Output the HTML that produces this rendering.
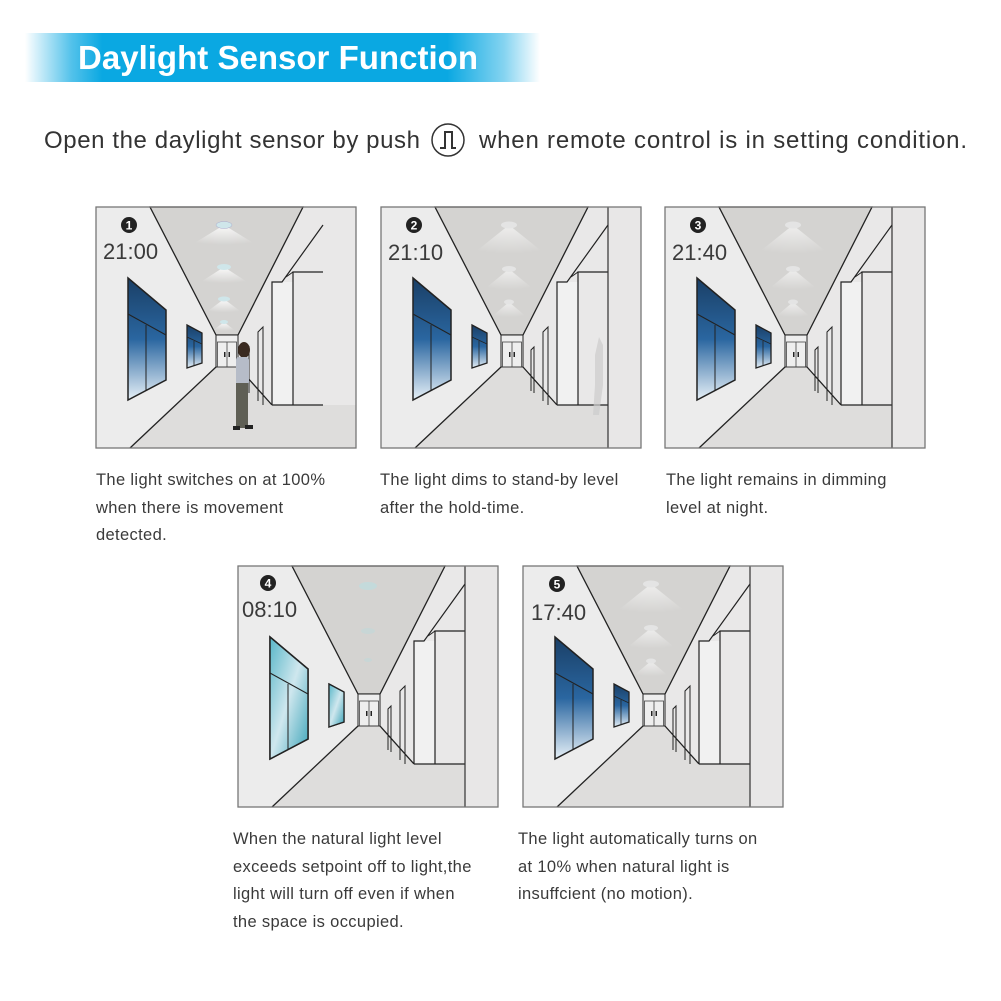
<!DOCTYPE html>
<html><head><meta charset="utf-8"><style>
html,body{margin:0;padding:0;background:#fff;}
body{width:1001px;height:1001px;overflow:hidden;position:relative;font-family:"Liberation Sans",sans-serif;}
svg{position:absolute;left:0;top:0;}
.cap{position:absolute;font-size:16.5px;letter-spacing:0.35px;line-height:27.5px;color:#3a3a3a;white-space:nowrap;}
</style></head><body>
<svg width="1001" height="1001" viewBox="0 0 1001 1001">
<defs>
<linearGradient id="ban" x1="0" x2="1" y1="0" y2="0">
<stop offset="0" stop-color="#0aa8e2" stop-opacity="0"/>
<stop offset="0.09" stop-color="#0aa8e2" stop-opacity="0.7"/>
<stop offset="0.15" stop-color="#0aa8e2"/>
<stop offset="0.82" stop-color="#0aa8e2"/>
<stop offset="0.93" stop-color="#0aa8e2" stop-opacity="0.5"/>
<stop offset="1" stop-color="#0aa8e2" stop-opacity="0"/>
</linearGradient>
<linearGradient id="win" x1="0" x2="0" y1="0" y2="1">
<stop offset="0" stop-color="#1a3f66"/>
<stop offset="0.5" stop-color="#2a66a0"/>
<stop offset="1" stop-color="#e6f0f7"/>
</linearGradient>
<linearGradient id="win4" x1="0" x2="1" y1="0" y2="1">
<stop offset="0" stop-color="#58b6c8"/>
<stop offset="0.5" stop-color="#cfe7ee"/>
<stop offset="1" stop-color="#3aa3b8"/>
</linearGradient>
<radialGradient id="glow" cx="0.5" cy="0" r="0.9">
<stop offset="0" stop-color="#ffffff" stop-opacity="0.9"/>
<stop offset="1" stop-color="#ffffff" stop-opacity="0"/>
</radialGradient>
<g id="base">
<rect x="0" y="0" width="260" height="241" fill="#e9e8e8"/>
<polygon points="0,0 54,0 120,128 120,160 34,241 0,241" fill="#ececec"/>
<polygon points="34,241 120,160 142,160 176,198 260,198 260,241" fill="#dedddc"/>
<polygon points="54,0 207,0 142,128 120,128" fill="#d4d3d1" stroke="#222" stroke-width="1.3"/>
<line x1="34" y1="241" x2="120" y2="160" stroke="#222" stroke-width="1.3"/>
<line x1="142" y1="160" x2="176" y2="198" stroke="#222" stroke-width="1.3"/>
<rect x="120" y="128" width="22" height="32" fill="#eee" stroke="#222" stroke-width="1"/>
<rect x="121.5" y="135" width="19" height="25" fill="none" stroke="#444" stroke-width="0.8"/>
<line x1="131" y1="135" x2="131" y2="160" stroke="#444" stroke-width="0.8"/>
<rect x="128" y="145" width="1.5" height="5" fill="#222"/><rect x="132.5" y="145" width="1.5" height="5" fill="#222"/>
<polygon points="32,71 70,103 70,173 32,193" fill="url(#win)" stroke="#222" stroke-width="1.5"/>
<line x1="32" y1="107" x2="70" y2="128" stroke="#222" stroke-width="1"/>
<line x1="50" y1="118" x2="50" y2="184" stroke="#222" stroke-width="1"/>
<polygon points="91,118 106,126 106,156 91,161" fill="url(#win)" stroke="#222" stroke-width="1.3"/>
<line x1="91" y1="130" x2="106" y2="137" stroke="#222" stroke-width="0.8"/>
<line x1="98" y1="134" x2="98" y2="159" stroke="#222" stroke-width="0.8"/>
<polyline points="150,184 150,143 153,140 153,186" fill="none" stroke="#222" stroke-width="1"/>
<polyline points="162,194 162,125 167,120 167,198" fill="none" stroke="#222" stroke-width="1"/>
<rect x="176" y="75" width="21" height="123" fill="#f1f1f1"/>
<polyline points="176,198 176,75 186,75 227,18" fill="none" stroke="#222" stroke-width="1.2"/>
<polyline points="197,198 197,65 227,65" fill="none" stroke="#222" stroke-width="1.2"/>
<line x1="176" y1="198" x2="227" y2="198" stroke="#222" stroke-width="1.2"/>
<line x1="190" y1="70" x2="197" y2="65" stroke="#222" stroke-width="1"/>
</g>
<g id="lights">
<polygon points="128,18 92,40 164,40" fill="url(#glow)"/>
<ellipse cx="128" cy="18" rx="8" ry="3.5" fill="#cfe6ea" stroke="#aac" stroke-width="0.5"/>
<polygon points="128,60 100,78 156,78" fill="url(#glow)"/>
<ellipse cx="128" cy="60" rx="7" ry="3" fill="#cfe6ea"/>
<polygon points="128,92 108,107 148,107" fill="url(#glow)"/>
<ellipse cx="128" cy="92" rx="6" ry="2.5" fill="#cfe6ea"/>
<polygon points="128,115 115,125 141,125" fill="url(#glow)"/>
<ellipse cx="128" cy="115" rx="4" ry="2" fill="#cfe6ea"/>
</g>
<g id="dim">
<polygon points="128,18 88,50 168,50" fill="url(#glow)" opacity="0.7"/>
<ellipse cx="128" cy="18" rx="8" ry="3.5" fill="#e4e4e4"/>
<polygon points="128,62 100,85 156,85" fill="url(#glow)" opacity="0.7"/>
<ellipse cx="128" cy="62" rx="7" ry="3" fill="#e4e4e4"/>
<polygon points="128,95 108,112 148,112" fill="url(#glow)" opacity="0.7"/>
<ellipse cx="128" cy="95" rx="5" ry="2.5" fill="#e4e4e4"/>
</g>
<g id="col">
<rect x="227" y="0" width="33" height="241" fill="#e8e7e7"/>
<line x1="227" y1="0" x2="227" y2="241" stroke="#333" stroke-width="1.2"/>
</g>
</defs>

<rect x="25" y="33" width="515" height="49" fill="url(#ban)"/>
<text x="78" y="69" font-family="Liberation Sans, sans-serif" font-size="33" font-weight="bold" fill="#fff" textLength="400">Daylight Sensor Function</text>
<text x="44" y="148" font-family="Liberation Sans, sans-serif" font-size="24" fill="#333" textLength="376">Open the daylight sensor by push</text>
<circle cx="448" cy="140" r="16" fill="none" stroke="#333" stroke-width="1.5"/>
<path d="M440 148 H445 V132 H452 V148 H456" fill="none" stroke="#333" stroke-width="2"/>
<text x="479" y="148" font-family="Liberation Sans, sans-serif" font-size="24" fill="#333" textLength="488">when remote control is in setting condition.</text>

<g transform="translate(96,207)">
<use href="#base"/><use href="#lights"/>
<ellipse cx="148" cy="143" rx="6" ry="8" fill="#3a2a20"/>
<rect x="140" y="150" width="13" height="28" rx="3" fill="#b6bcc8"/>
<rect x="140" y="176" width="12" height="45" fill="#5f5f55"/>
<rect x="137" y="219" width="7" height="4" fill="#222"/><rect x="149" y="218" width="8" height="4" fill="#222"/>
<rect x="0" y="0" width="260" height="241" fill="none" stroke="#777" stroke-width="1.3"/>
</g>
<g transform="translate(381,207)">
<use href="#base"/><use href="#dim"/><use href="#col"/>
<path d="M218 130 l4 8 v40 l-4 30 h-6 l2 -30 v-30 z" fill="#ccc" opacity="0.7"/>
<rect x="0" y="0" width="260" height="241" fill="none" stroke="#777" stroke-width="1.3"/>
</g>
<g transform="translate(665,207)">
<use href="#base"/><use href="#dim"/><use href="#col"/>
<rect x="0" y="0" width="260" height="241" fill="none" stroke="#777" stroke-width="1.3"/>
</g>
<g transform="translate(238,566)">
<use href="#base"/><use href="#col"/>
<polygon points="32,71 70,103 70,173 32,193" fill="url(#win4)" stroke="#222" stroke-width="1.5"/>
<line x1="32" y1="107" x2="70" y2="128" stroke="#222" stroke-width="1"/>
<line x1="50" y1="118" x2="50" y2="184" stroke="#222" stroke-width="1"/>
<polygon points="91,118 106,126 106,156 91,161" fill="url(#win4)" stroke="#222" stroke-width="1.3"/>
<ellipse cx="130" cy="20" rx="9" ry="4" fill="#c4dadb"/>
<ellipse cx="130" cy="65" rx="7" ry="3" fill="#c8d6d6"/>
<ellipse cx="130" cy="94" rx="4" ry="2" fill="#c8d6d6"/>
<rect x="0" y="0" width="260" height="241" fill="none" stroke="#777" stroke-width="1.3"/>
</g>
<g transform="translate(523,566)">
<use href="#base"/><use href="#dim"/><use href="#col"/>
<rect x="0" y="0" width="260" height="241" fill="none" stroke="#777" stroke-width="1.3"/>
</g>

<g font-family="Liberation Sans, sans-serif" fill="#fff" font-size="12" font-weight="bold" text-anchor="middle">
<circle cx="129" cy="225" r="8" fill="#222"/><text x="129" y="229.5">1</text>
<circle cx="414" cy="225" r="8" fill="#222"/><text x="414" y="229.5">2</text>
<circle cx="698" cy="225" r="8" fill="#222"/><text x="698" y="229.5">3</text>
<circle cx="268" cy="583" r="8" fill="#222"/><text x="268" y="587.5">4</text>
<circle cx="557" cy="584" r="8" fill="#222"/><text x="557" y="588.5">5</text>
</g>
<g font-family="Liberation Sans, sans-serif" fill="#3a3a3a" font-size="22">
<text x="103" y="259">21:00</text>
<text x="388" y="260">21:10</text>
<text x="672" y="260">21:40</text>
<text x="242" y="617">08:10</text>
<text x="531" y="620">17:40</text>
</g>
</svg>
<div class="cap" style="left:96px;top:467px;">The light switches on at 100%<br>when there is movement<br>detected.</div>
<div class="cap" style="left:380px;top:467px;">The light dims to stand-by level<br>after the hold-time.</div>
<div class="cap" style="left:666px;top:467px;">The light remains in dimming<br>level at night.</div>
<div class="cap" style="left:233px;top:826px;">When the natural light level<br>exceeds setpoint off to light,the<br>light will turn off even if when<br>the space is occupied.</div>
<div class="cap" style="left:518px;top:826px;">The light automatically turns on<br>at 10% when natural light is<br>insuffcient (no motion).</div>
</body></html>
